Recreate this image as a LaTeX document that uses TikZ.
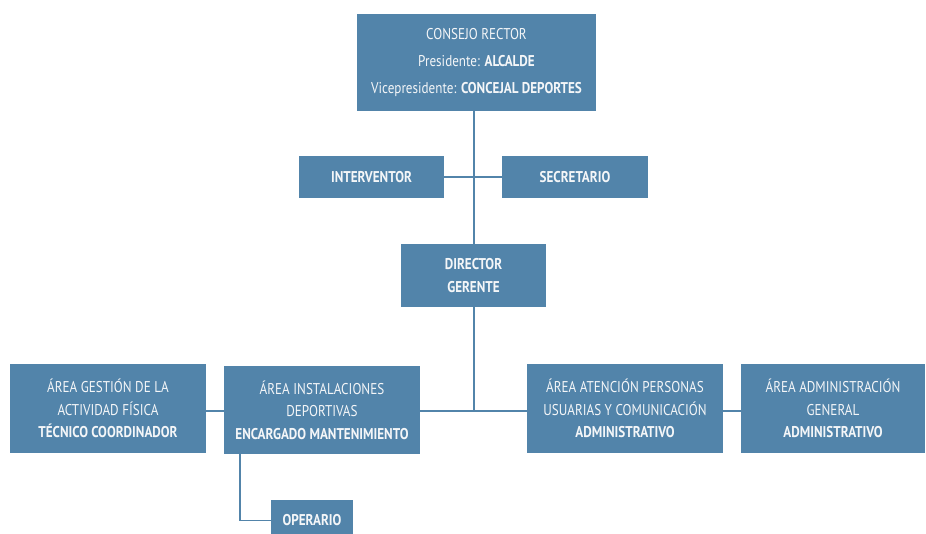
\documentclass[tikz,border=0pt]{standalone}
\usepackage{fontspec}
\setmainfont{PT Sans}[FakeStretch=0.84]
\usepackage{xcolor}
\usetikzlibrary{positioning}
\definecolor{orgblue}{HTML}{5284AA}
\definecolor{unittext}{HTML}{F4F6F8}

\begin{document}
\begin{tikzpicture}[
    x=1pt, y=-1pt,
    font=\fontsize{15.6}{22.5}\selectfont,
    unit/.style={draw=none, fill=orgblue, text=unittext, align=center, inner sep=0pt},
    head/.style={unit, font=\fontsize{15.6}{22.5}\selectfont\bfseries},
    link/.style={draw=orgblue, line width=1.4pt},
  ]
  \clip (0,0) rectangle (926,533);
  \fill[white] (0,0) rectangle (926,533);

  \node[unit, minimum width=239pt, minimum height=97pt] (cr) at (476.5,62.5)
    {CONSEJO RECTOR\\[4.5pt] Presidente: \textbf{ALCALDE}\\[4.5pt] Vicepresidente: \textbf{CONCEJAL DEPORTES}};
  \node[head, minimum width=145pt, minimum height=42pt] (inv) at (371.5,177) {INTERVENTOR};
  \node[head, minimum width=146pt, minimum height=42pt] (sec) at (575,177) {SECRETARIO};
  \node[head, minimum width=145pt, minimum height=63pt] (dir) at (473.5,275.5) {DIRECTOR\\GERENTE};

  \node[unit, minimum width=196pt, minimum height=89pt] (ges) at (108,408.5)
    {ÁREA GESTIÓN DE LA\\ACTIVIDAD FÍSICA\\\textbf{TÉCNICO COORDINADOR}};
  \node[unit, minimum width=196pt, minimum height=88pt] (ins) at (322,410)
    {ÁREA INSTALACIONES\\DEPORTIVAS\\\textbf{ENCARGADO MANTENIMIENTO}};
  \node[unit, minimum width=196pt, minimum height=89pt] (ate) at (625,408.5)
    {ÁREA ATENCIÓN PERSONAS\\USUARIAS Y COMUNICACIÓN\\\textbf{ADMINISTRATIVO}};
  \node[unit, minimum width=184pt, minimum height=89pt] (adm) at (833,408.5)
    {ÁREA ADMINISTRACIÓN\\GENERAL\\\textbf{ADMINISTRATIVO}};
  \node[head, minimum width=82pt, minimum height=42pt] (ope) at (312,520.5) {OPERARIO};

  \coordinate (hub) at (474,411);
  \draw[link] (cr.south -| hub) -- (dir.north -| hub);
  \draw[link] (inv.east) -- (sec.west);
  \draw[link] (dir.south -| hub) -- (hub);
  \draw[link] (ges.east |- hub) -- (ins.west |- hub);
  \draw[link] (ins.east |- hub) -- (ate.west |- hub);
  \draw[link] (ate.east |- hub) -- (adm.west |- hub);
  \draw[link] ([xshift=-82pt]ins.south) |- (ope.west);
\end{tikzpicture}
\end{document}
